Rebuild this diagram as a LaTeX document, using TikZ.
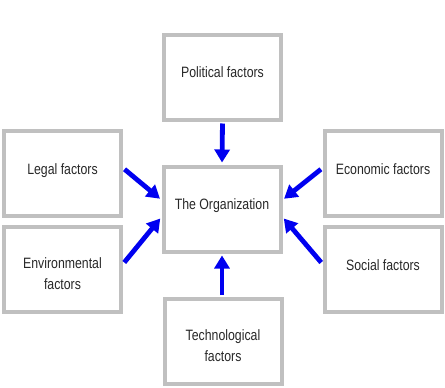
\documentclass[tikz,border=0pt]{standalone}
\usepackage{fontspec}
\setmainfont[FakeStretch=0.82]{Liberation Sans}
\usetikzlibrary{arrows.meta}
\definecolor{boxgray}{RGB}{192,192,192}
\definecolor{txt}{RGB}{40,40,40}
\definecolor{arrblue}{RGB}{0,0,240}
\begin{document}
\begin{tikzpicture}[x=1pt,y=-1pt,
  factor/.style={draw=boxgray, line width=4pt, fill=white, minimum width=117pt, minimum height=85pt,
    inner sep=0pt},
  oneline/.style={inner sep=0pt, text=txt, font=\fontsize{15}{21}\selectfont,
    text height=11pt, text depth=3pt},
  twoline/.style={inner sep=0pt, text=txt, align=center, font=\fontsize{15}{21}\selectfont},
  push/.style={draw=arrblue, line width=4.8pt, shorten <=2pt, shorten >=2pt,
    -{Triangle[length=13pt,width=15pt]}}]
\useasboundingbox (0,0) rectangle (445,388);
\fill[white] (0,0) rectangle (445,388);
\node[factor] (pol) at (222.5,77) {};
\node[factor] (leg) at (62.5,173.5) {};
\node[factor] (eco) at (383,173.5) {};
\node[factor] (org) at (222,209) {};
\node[factor] (env) at (62.5,269.5) {};
\node[factor] (soc) at (383,269.5) {};
\node[factor] (tec) at (223,341.5) {};
\node[oneline] (polt) at ([yshift=3.5pt]pol.center) {Political factors};
\node[oneline] (legt) at ([yshift=3.5pt]leg.center) {Legal factors};
\node[oneline] (ecot) at ([yshift=3.5pt]eco.center) {Economic factors};
\node[oneline] (orgt) at ([yshift=3.5pt]org.center) {The Organization};
\node[oneline] (soct) at ([yshift=3.5pt]soc.center) {Social factors};
\node[twoline] (envt) at ([yshift=-4.5pt]env.center) {Environmental\\factors};
\node[twoline] (tect) at ([yshift=-4.5pt]tec.center) {Technological\\factors};
\draw[push] (pol.south) -- (org.north);
\draw[push] (tec.north -| org.south) -- (org.south);
\draw[push] ([yshift=5.5pt]leg.east) -- ([yshift=9pt]org.west);
\draw[push] ([yshift=5.5pt]env.east) -- ([yshift=-8pt]org.west);
\draw[push] ([yshift=5.5pt]eco.west) -- ([yshift=9pt]org.east);
\draw[push] ([yshift=5.5pt]soc.west) -- ([yshift=-8pt]org.east);
\end{tikzpicture}
\end{document}
